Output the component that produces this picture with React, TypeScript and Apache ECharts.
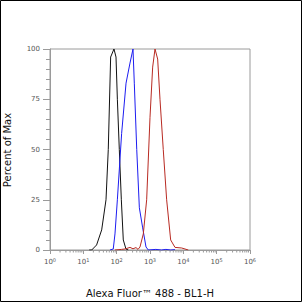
import React, { useEffect, useRef } from "react";
import * as echarts from "echarts";

// Histogram curves: [fluorescence intensity, percent of max]
const blackSeries: [number, number][] = [
  [15, 0], [17.8, 0], [25, 2.5], [35.5, 10], [47.9, 25], [56, 50], [66, 96], [83, 100],
  [95.5, 96], [105, 75], [120, 50], [138, 25], [158, 5], [190, 0.5], [224, 0],
];
const blueSeries: [number, number][] = [
  [63, 0], [79, 0.5], [89, 8], [105, 25], [141, 58], [191, 83], [251, 93], [309, 100],
  [338, 83], [400, 50], [479, 21], [603, 11], [759, 1.5], [891, 0], [1500, 0.3], [2200, 0],
  [3000, 0.3], [4200, 0], [5600, 0.2],
];
const redSeries: [number, number][] = [
  [89, 0], [140, 0.3], [178, 0.5], [251, 1.3], [309, 0.6], [380, 1.2], [437, 0.3], [501, 1.5],
  [630, 8], [794, 25], [1000, 66], [1202, 91], [1413, 100], [1698, 95], [1995, 75],
  [2500, 50], [3160, 25], [4170, 5], [5620, 1.3], [8910, 1], [14100, 0],
];
const xMajorExponents = [0, 1, 2, 3, 4, 5, 6];
const yTicks = [0, 25, 50, 75, 100];
const xTitle = "Alexa Fluor™ 488 - BL1-H";
const yTitle = "Percent of Max";

const minorTickValues: number[] = [];
for (const e of xMajorExponents.slice(0, -1)) {
  for (let m = 2; m <= 9; m++) minorTickValues.push(m * Math.pow(10, e));
}

export default function App() {
  const ref = useRef<HTMLDivElement>(null);
  useEffect(() => {
    if (!ref.current) return;
    const chart = echarts.init(ref.current, undefined, { renderer: "svg" });
    const axisGray = "#9a9a9a";
    const labelColor = "#555";
    chart.setOption({
      animation: false,
      backgroundColor: "#fff",
      grid: { left: 50, top: 49, width: 200, height: 201, show: true, borderColor: axisGray, borderWidth: 1 },
      xAxis: {
        type: "log",
        logBase: 10,
        min: 1,
        max: 1e6,
        splitLine: { show: false },
        axisLine: { lineStyle: { color: axisGray } },
        axisTick: { length: 4, lineStyle: { color: axisGray } },
        axisLabel: {
          margin: 7,
          color: labelColor,
          fontFamily: "DejaVu Sans",
          formatter: (v: number) => `{b|10}{s|${Math.round(Math.log10(v))}}`,
          rich: {
            b: { fontSize: 7, color: labelColor, fontFamily: "DejaVu Sans" },
            s: { fontSize: 5, color: labelColor, fontFamily: "DejaVu Sans", verticalAlign: "bottom", padding: [0, 0, 5, 0] },
          },
        },
      },
      yAxis: {
        type: "value",
        min: 0,
        max: 100,
        interval: 25,
        splitLine: { show: false },
        axisLine: { show: true, lineStyle: { color: axisGray } },
        axisTick: { show: true, length: 7, lineStyle: { color: axisGray } },
        minorTick: { show: true, splitNumber: 5, length: 4, lineStyle: { color: axisGray } },
        axisLabel: {
          margin: 10,
          fontSize: 7,
          color: labelColor,
          fontFamily: "DejaVu Sans",
          formatter: (v: number) => (yTicks.includes(v) ? String(v) : ""),
        },
      },
      series: [
        { type: "line", data: blackSeries, showSymbol: false, symbol: "none", lineStyle: { color: "#111", width: 1 }, z: 3 },
        { type: "line", data: blueSeries, showSymbol: false, symbol: "none", lineStyle: { color: "#1c1cf0", width: 1 }, z: 3 },
        { type: "line", data: redSeries, showSymbol: false, symbol: "none", lineStyle: { color: "#b82a22", width: 1 }, z: 3 },
        {
          type: "custom",
          data: minorTickValues.map((v) => [v, 0]),
          clip: false,
          silent: true,
          renderItem: (params: any, api: any) => {
            const p = api.coord([api.value(0), 0]);
            return {
              type: "line",
              shape: { x1: p[0], y1: p[1], x2: p[0], y2: p[1] + 2.5 },
              style: { stroke: axisGray, lineWidth: 1 },
            };
          },
        },
      ],
      graphic: [
        { type: "rect", shape: { x: 0.5, y: 0.5, width: 301, height: 301 }, style: { fill: "none", stroke: "#000", lineWidth: 1 } },
        {
          type: "text",
          x: 150,
          y: 293,
          style: { text: xTitle, fontSize: 10, fontFamily: "DejaVu Sans", fill: "#111", textAlign: "center", textVerticalAlign: "middle" },
        },
        {
          type: "text",
          x: 7,
          y: 150,
          rotation: Math.PI / 2,
          style: { text: yTitle, fontSize: 10, fontFamily: "DejaVu Sans", fill: "#111", textAlign: "center", textVerticalAlign: "middle" },
        },
      ],
    });
    return () => chart.dispose();
  }, []);
  return <div ref={ref} style={{ position: "absolute", left: 0, top: 0, width: 302, height: 302 }} />;
}
